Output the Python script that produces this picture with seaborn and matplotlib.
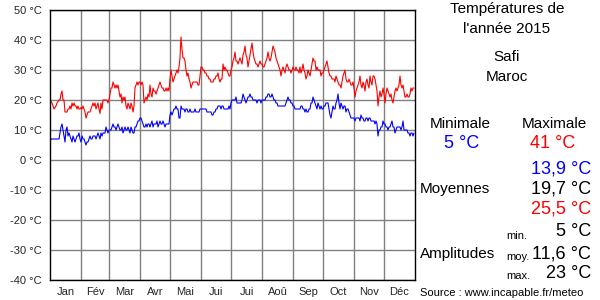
import numpy as np
import pandas as pd
import matplotlib
matplotlib.use("Agg")
import matplotlib.pyplot as plt
import seaborn as sns

# ---- data (daily values) ----
tmax_jan = [20,19.5,19,18,17,17.5,18,19,19.5,20,20,22,23,20,20,16,16,16,17,17,18,17,19,18,19,18,18,17,18,17,17]
tmax_feb = [17.5,17,18,17,16,14,15,16,16,16,17,18,19,18,19,17,18,19,17,15.5,19,17,20,20,20,20,20,19]
tmax_mar = [20,22,24,24,26,25,24,25,24,25,23,21,22,19,21,20,21,18,17,19,18,17,19,18,16,18,24,25,26,25,26]
tmax_apr = [26,25,26,25,19,20,21,20,22,21,25,22,21,24,23,23,22,23,24,25,26,25,24,24,23,23,24,23,24,23]
tmax_may = [27,30,28,26,27,28,29,30,29,31,34,41,37,34,34,33,30,28,29,27,26,24,25,26,26,26,26,26,25,25,28]
tmax_jun = [31,31,30,30,29,29,28,28,27,27,26,26,26,27,27,28,28,29,27,26,27,27,32,30,31,30,30,29,28,28]
tmax_jul = [30,31,33,34,36,33,33,32,33,34,33,32,35,36,38,35,34,31,33,35,37,39,36,34,33,32,32,31,32,33,32]
tmax_aug = [32,31,31,32,33,34,36,34,33,34,36,38,37,36,34,33,32,31,30,28,30,31,30,29,31,32,31,30,30,29,30]
tmax_sep = [31,30,30,31,30,30,29,31,29,30,32,30,29,27,28,30,29,28,30,32,34,33,33,30,31,30,30,30,28,29]
tmax_oct = [29,30,31,32,33,31,29,28,28,27,27,27,26,28,27,26,25,25,24,26,28,29,30,27,26,26,27,26,25,25,26]
tmax_nov = [24,21,23,24,25,26,28,25,24,26,25,23,26,27,25,24,28,26,25,28,28,27,25,23,18,21,23,21,22,24]
tmax_dec = [22,19,22,24,23,22,21,22,20,19,21,23,24,23,24,25,28,25,24,25,23,21,21,22,21,21,22,24,23,24,24]

tmin_jan = [6,7,7,7,7,7,7,7,7,7,9,11,12,10,8,6,10,11,8,9,8,7,6,8,7,6,7,8,8,9,7]
tmin_feb = [6,8,7,7,6,5,6,6,7,8,7,7,8,8,8,7,8,9,8,7,9,8,9,9,9,11,10,9]
tmin_mar = [10,10,10,11,12,11,11,10,11,12,11,10,10,11,9,10,11,10,10,11,10,9,11,10,9,9,11,11,12,13,13]
tmin_apr = [14,14,13,12,11,11,12,11,12,12,11,12,13,11,12,12,12,13,11,12,13,12,12,13,12,11,12,12,12,12]
tmin_may = [15,16,15,16,17,17,18,17,17,14,14,18,17,17,17,16,17,17,16,16,17,16,16,16,16,17,16,16,16,16,17]
tmin_jun = [17,17,17,17,17,17,16,16,16,16,16,15,15,16,16,17,17,18,18,18,17,18,18,17,17,17,17,17,18,17]
tmin_jul = [19,20,20,20,20,21,19,19,19,19,19,20,22,21,20,19,20,21,21,22,21,21,20,20,20,20,19,20,20,20,19]
tmin_aug = [20,20,20,20,21,21,22,22,21,21,22,21,20,20,19,19,18,18,18,18,18,18,18,18,19,20,21,20,20,19,19]
tmin_sep = [18,18,17,17,17,17,17,17,18,18,17,17,16,17,16,16,17,17,19,19,21,20,19,18,17,19,18,17,18,17]
tmin_oct = [17,18,18,19,19,19,17,15,14,16,18,17,17,19,20,22,19,17,19,18,17,18,18,16,17,17,16,15,14,14,14]
tmin_nov = [14,13,14,14,14,14,13,15,14,14,13,13,14,14,13,14,14,13,13,13,13,12,13,12,8,10,10,11,11,13]
tmin_dec = [12,12,11,11,10,11,11,12,13,11,11,9,10,11,11,11,11,10,11,13,10,10,10,10,9,9,8,9,9,8,9]

months = ["Jan", "Fév", "Mar", "Avr", "Mai", "Jui", "Jui", "Aoû", "Sep", "Oct", "Nov", "Déc"]
month_days = [31, 28, 31, 30, 31, 30, 31, 31, 30, 31, 30, 31]
y_ticks = [-40, -30, -20, -10, 0, 10, 20, 30, 40, 50]

title_lines = ["Températures de", "l'année 2015", "Safi", "Maroc"]
stat_min, stat_max = "5 °C", "41 °C"
mean_min, mean_all, mean_max = "13,9 °C", "19,7 °C", "25,5 °C"
amp_min, amp_moy, amp_max = "5 °C", "11,6 °C", "23 °C"
source = "Source : www.incapable.fr/meteo"

tmax = sum([tmax_jan, tmax_feb, tmax_mar, tmax_apr, tmax_may, tmax_jun,
            tmax_jul, tmax_aug, tmax_sep, tmax_oct, tmax_nov, tmax_dec], [])
tmin = sum([tmin_jan, tmin_feb, tmin_mar, tmin_apr, tmin_may, tmin_jun,
            tmin_jul, tmin_aug, tmin_sep, tmin_oct, tmin_nov, tmin_dec], [])
df = pd.DataFrame({"day": np.arange(len(tmax)), "tmax": tmax, "tmin": tmin})

# ---- figure ----
sns.set_style("white")
plt.rcParams["font.family"] = ["Liberation Sans", "DejaVu Sans"]

W, H = 600, 300
fig = plt.figure(figsize=(6, 3), dpi=100)
ax = fig.add_axes([50 / W, 1 - 280 / H, 365 / W, 270 / H])

sns.lineplot(data=df, x="day", y="tmax", ax=ax, color="#ff0000", linewidth=0.8)
sns.lineplot(data=df, x="day", y="tmin", ax=ax, color="#0000ff", linewidth=0.8)

starts = np.cumsum([0] + month_days)
ax.set_xlim(0, 365)
ax.set_ylim(-40, 50)
ax.set_xticks(starts[1:-1])
ax.set_xticklabels([])
mids = [(starts[i] + starts[i + 1]) / 2 for i in range(12)]
ax.set_xticks(mids, minor=True)
ax.set_xticklabels(months, minor=True, fontsize=8)
ax.set_yticks(y_ticks)
ax.set_yticklabels([f"{v} °C" for v in y_ticks], fontsize=8)
ax.tick_params(axis="both", which="both", length=0)
ax.tick_params(axis="y", pad=6)
ax.tick_params(axis="x", which="minor", pad=5)
ax.grid(True, which="major", color="#808080", linewidth=1.0)
ax.set_axisbelow(True)
ax.set_xlabel("")
ax.set_ylabel("")
for s in ax.spines.values():
    s.set_color("black")
    s.set_linewidth(1.0)


def px(x, y):
    return x / W, 1 - y / H


def t(x, y, s, size=11, color="black", ha="center"):
    fig.text(*px(x, y), s, fontsize=size, color=color, ha=ha, va="center")


t(507, 9, title_lines[0])
t(507, 29, title_lines[1])
t(507, 57, title_lines[2])
t(507, 77, title_lines[3])
t(460, 124, "Minimale")
t(554, 124, "Maximale")
t(462, 143, stat_min, size=13, color="#0000ff")
t(553, 143, stat_max, size=13, color="#ff0000")
t(591, 169, mean_min, size=13, color="#0000ff", ha="right")
t(420, 189, "Moyennes", ha="left")
t(591, 189, mean_all, size=13, ha="right")
t(591, 209, mean_max, size=13, color="#ff0000", ha="right")
t(506, 236, "min.", size=8, ha="left")
t(591, 232, amp_min, size=13, ha="right")
t(420, 254, "Amplitudes", ha="left")
t(506, 257, "moy.", size=8, ha="left")
t(591, 254, amp_moy, size=13, ha="right")
t(506, 276, "max.", size=8, ha="left")
t(591, 273, amp_max, size=13, ha="right")
t(420, 293, source, size=8, ha="left")

fig.savefig("out.png", dpi=100)
